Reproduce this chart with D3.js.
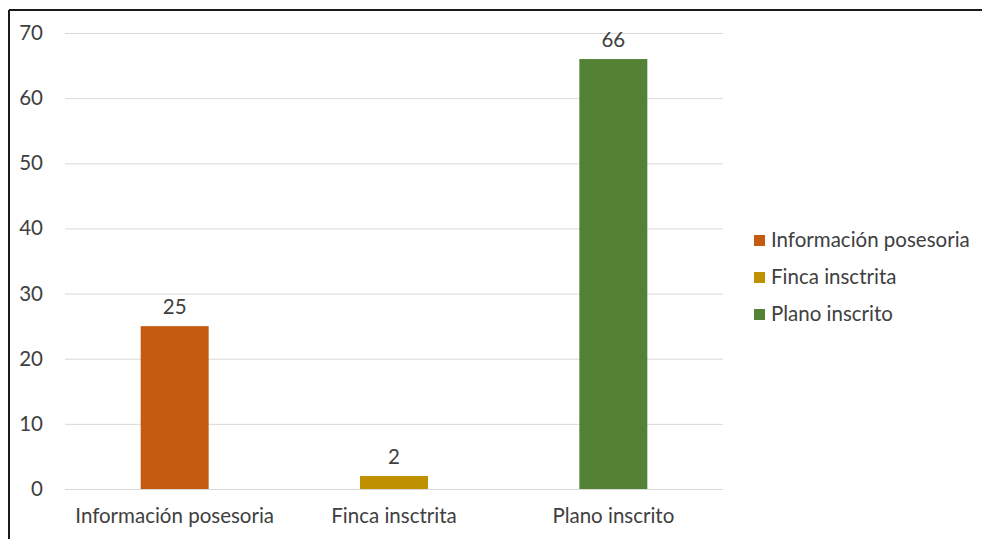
<!DOCTYPE html>
<html><head><meta charset="utf-8">
<script src="https://cdn.jsdelivr.net/npm/d3@7"></script>
<style>body{margin:0;background:#fff}svg{display:block}</style>
</head><body>
<script>
const categories = ["Información posesoria", "Finca insctrita", "Plano inscrito"];
const values = [25, 2, 66];
const colors = ["#C55A11", "#BF9000", "#548235"];
const yTicks = [0, 10, 20, 30, 40, 50, 60, 70];

const W = 982, H = 539;
const font = "Lato, 'Open Sans', sans-serif";
const fs = "20.5px";
const textColor = "#404040";
const svg = d3.select("body").append("svg").attr("width", W).attr("height", H);

svg.append("rect").attr("width", W).attr("height", H).attr("fill", "#fff");
// frame (left & top visible)
svg.append("line").attr("x1", 9).attr("x2", 9).attr("y1", 10).attr("y2", H).attr("stroke", "#1a1a1a").attr("stroke-width", 2);
svg.append("line").attr("x1", 9).attr("x2", W).attr("y1", 10).attr("y2", 10).attr("stroke", "#1a1a1a").attr("stroke-width", 2);

const x0 = 65, x1 = 723, yTop = 33, yBot = 489;
const x = d3.scaleBand().domain(categories).range([x0, x1]).paddingInner(0.69).paddingOuter(0.345);
const y = d3.scaleLinear().domain([0, 70]).range([yBot, yTop]);

const yAxis = d3.axisLeft(y).tickValues(yTicks).tickSize(-(x1 - x0)).tickPadding(22);
const gy = svg.append("g").attr("transform", `translate(${x0},0)`).call(yAxis);
gy.select(".domain").remove();
gy.selectAll(".tick line").attr("stroke", "#d9d9d9").attr("stroke-width", 1);
gy.selectAll(".tick text").attr("fill", textColor).style("font-family", font).style("font-size", fs);

const xAxis = d3.axisBottom(x).tickSize(0).tickPadding(19);
const gx = svg.append("g").attr("transform", `translate(0,${yBot})`).call(xAxis);
gx.select(".domain").remove();
gx.selectAll(".tick text").attr("fill", textColor).style("font-family", font).style("font-size", fs);

svg.selectAll("rect.bar").data(values).enter().append("rect").attr("class", "bar")
  .attr("x", (d, i) => x(categories[i])).attr("width", x.bandwidth())
  .attr("y", d => y(d)).attr("height", d => y(0) - y(d))
  .attr("fill", (d, i) => colors[i]);

svg.selectAll("text.val").data(values).enter().append("text").attr("class", "val")
  .attr("x", (d, i) => x(categories[i]) + x.bandwidth() / 2)
  .attr("y", d => y(d) - 12).attr("text-anchor", "middle")
  .attr("fill", textColor).style("font-family", font).style("font-size", fs)
  .text(d => d);

const legY = [240, 277, 314];
const leg = svg.selectAll("g.leg").data(categories).enter().append("g").attr("class", "leg")
  .attr("transform", (d, i) => `translate(754,${legY[i]})`);
leg.append("rect").attr("x", 0).attr("y", -5).attr("width", 11).attr("height", 11).attr("fill", (d, i) => colors[i]);
leg.append("text").attr("x", 17).attr("y", 0).attr("dy", "0.35em")
  .attr("fill", textColor).style("font-family", font).style("font-size", fs).text(d => d);
</script>
</body></html>
